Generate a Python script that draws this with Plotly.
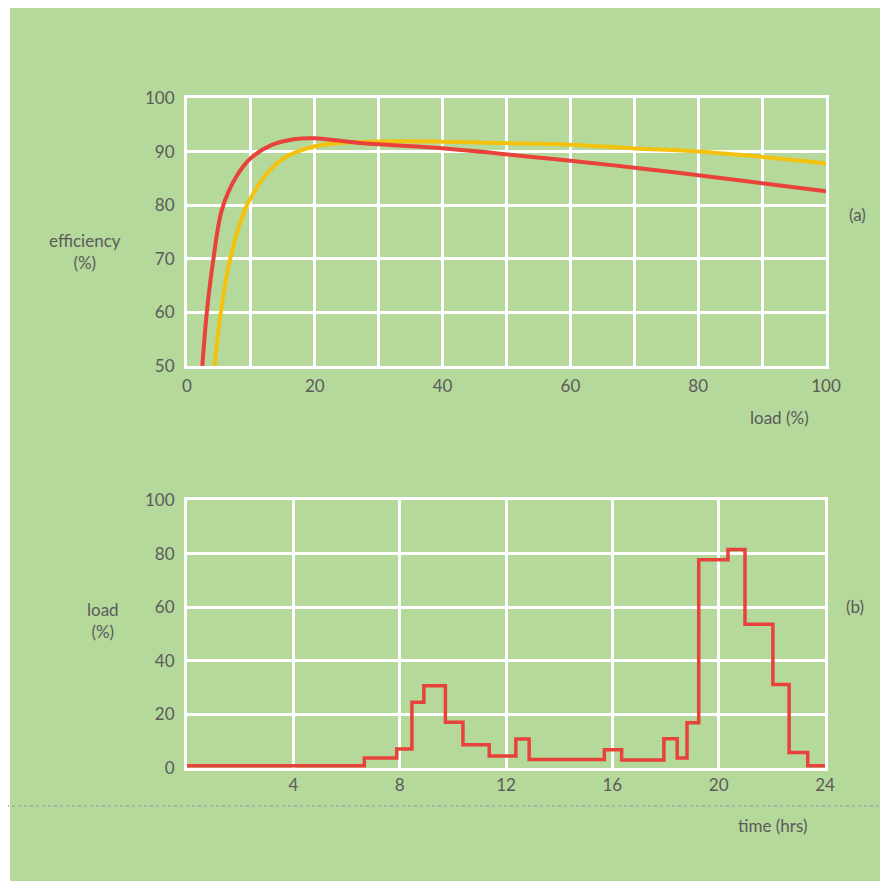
import plotly.graph_objects as go

# ---- data: efficiency vs load (a) ----
load_red = [2.4, 3.1, 4.1, 5.5, 7.7, 10.0, 13.2, 16.7, 20.0, 27.0, 38.9, 60, 70, 80, 90, 100]
eff_red = [50, 60, 69.7, 79.3, 85.3, 88.8, 91.2, 92.3, 92.5, 91.6, 90.7, 88.3, 87.0, 85.6, 84.1, 82.6]

load_yellow = [4.3, 5.3, 6.7, 9.1, 10.0, 12.1, 15.2, 20.0, 24.0, 30, 38.9, 49.4, 60, 70, 80, 90, 100]
eff_yellow = [50, 60, 69.7, 79.3, 81.4, 85.3, 88.8, 91.0, 91.6, 91.9, 91.9, 91.6, 91.3, 90.6, 90.0, 89.0, 87.8]

# ---- data: daily load profile (b) ----
step_times = [0, 6.67, 7.89, 8.46, 8.91, 9.72, 10.38, 11.37, 12.37, 12.87, 15.7, 16.35,
              17.94, 18.44, 18.81, 19.25, 20.35, 20.99, 22.04, 22.65, 23.35, 24]
step_loads = [0.8, 3.7, 7.1, 24.5, 30.7, 17.1, 8.7, 4.5, 10.8, 3.2, 6.8, 3.0,
              10.9, 3.7, 16.9, 77.7, 81.5, 53.6, 31.2, 5.8, 0.8, 0.8]

top_xticks = [0, 10, 20, 30, 40, 50, 60, 70, 80, 90, 100]
top_xlabels = ["0", "", "20", "", "40", "", "60", "", "80", "", "100"]
top_yticks = [50, 60, 70, 80, 90, 100]
bot_xticks = [0, 4, 8, 12, 16, 20, 24]
bot_xlabels = ["", "4", "8", "12", "16", "20", "24"]
bot_yticks = [0, 20, 40, 60, 80, 100]

W, H = 888, 885
OFF = 8  # page body margin
GREEN = "#b5d89b"
TXT = "#5b5b5b"
RED = "#e8423a"
YEL = "#f4c20d"
FONT = "Lato"


def px(x):
    return (x - OFF) / W


def py(y):
    return 1 - (y - OFF) / H


fig = go.Figure()
fig.add_trace(go.Scatter(x=load_yellow, y=eff_yellow, mode="lines",
                         line=dict(color=YEL, width=4, shape="spline", smoothing=1),
                         xaxis="x", yaxis="y", showlegend=False))
fig.add_trace(go.Scatter(x=load_red, y=eff_red, mode="lines",
                         line=dict(color=RED, width=4, shape="spline", smoothing=1),
                         xaxis="x", yaxis="y", showlegend=False))
fig.add_trace(go.Scatter(x=step_times, y=step_loads, mode="lines",
                         line=dict(color=RED, width=3.5, shape="hv"),
                         xaxis="x2", yaxis="y2", showlegend=False))

axis_common = dict(showgrid=True, gridcolor="white", gridwidth=3,
                   showline=True, linecolor="white", linewidth=3, mirror=True,
                   zeroline=False, automargin=False, tickmode="array",
                   tickfont=dict(family=FONT, size=17, color=TXT),
                   ticks="outside", tickcolor="rgba(0,0,0,0)")

fig.update_layout(
    width=W, height=H,
    margin=dict(l=0, r=0, t=0, b=0),
    paper_bgcolor="white",
    plot_bgcolor="rgba(0,0,0,0)",
    xaxis=dict(axis_common, domain=[px(187), px(826)], range=[0, 100],
               tickvals=top_xticks, ticktext=top_xlabels, ticklen=3, anchor="y"),
    yaxis=dict(axis_common, domain=[py(366), py(98)], range=[50, 100],
               tickvals=top_yticks, ticklen=6, anchor="x"),
    xaxis2=dict(axis_common, domain=[px(187), px(825)], range=[0, 24],
                tickvals=bot_xticks, ticktext=bot_xlabels, ticklen=0, anchor="y2"),
    yaxis2=dict(axis_common, domain=[py(768), py(500)], range=[0, 100],
                tickvals=bot_yticks, ticklen=6, anchor="x2"),
    shapes=[
        dict(type="rect", xref="paper", yref="paper", x0=px(10), x1=1.05, y0=py(881), y1=py(8),
             fillcolor=GREEN, line=dict(width=0), layer="below"),
        dict(type="line", xref="paper", yref="paper", x0=px(0), x1=1.05, y0=py(806), y1=py(806),
             line=dict(color="#a9b5a4", width=2, dash="dot"), layer="above"),
    ],
)

ann_font = dict(family=FONT, size=17, color=TXT)
labels = [
    ("efficiency<br>(%)", 85, 251),
    ("(a)", 857, 215),
    ("load (%)", 779, 418),
    ("load<br>(%)", 103, 620),
    ("(b)", 855, 606),
    ("time (hrs)", 772, 825),
]
for text, x, y in labels:
    fig.add_annotation(text=text, x=px(x), y=py(y), xref="paper", yref="paper",
                       showarrow=False, font=ann_font, xanchor="center", yanchor="middle",
                       align="center")

fig.write_html("out.html")
